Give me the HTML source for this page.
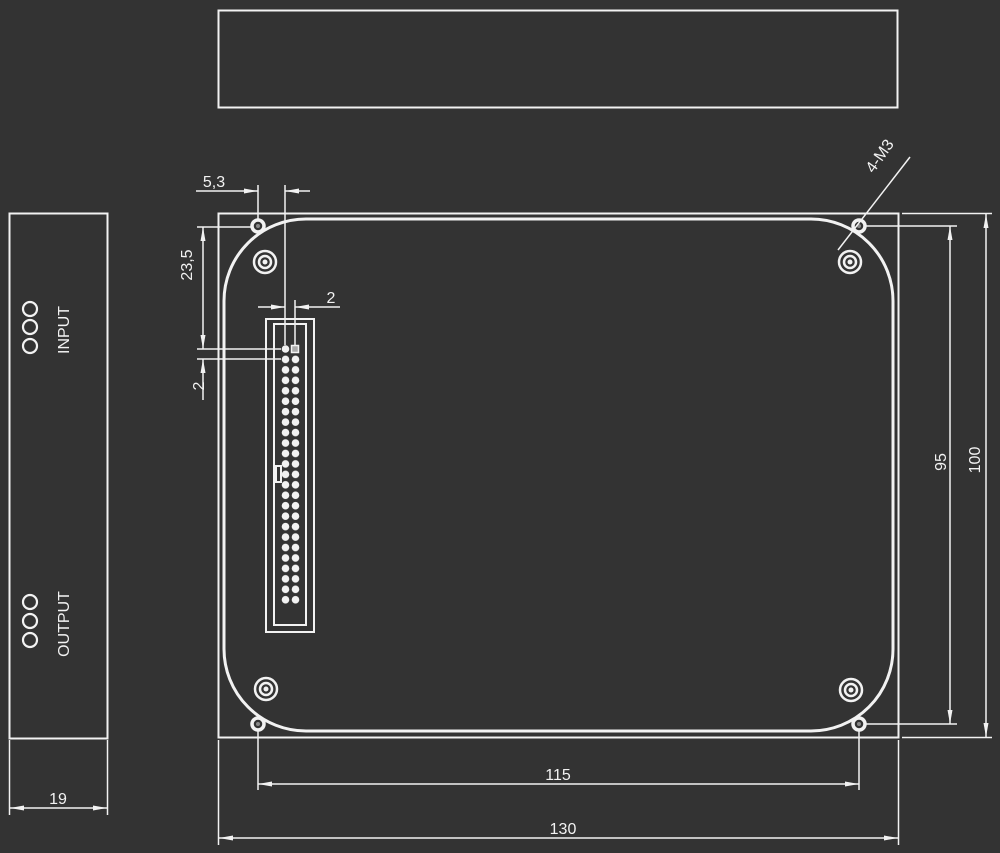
<!DOCTYPE html>
<html><head><style>html,body{margin:0;padding:0;background:#333;}svg{display:block}</style></head>
<body>
<svg width="1000" height="853" viewBox="0 0 1000 853" xmlns="http://www.w3.org/2000/svg" font-family="Liberation Sans, sans-serif" fill="none" stroke="#f2f2f2">
<defs>
<marker id="a" viewBox="0 0 14 6" refX="14" refY="3" markerWidth="14" markerHeight="6" orient="auto-start-reverse" markerUnits="userSpaceOnUse"><path d="M0,0.5 L14,3 L0,5.5 Z" fill="#f2f2f2" stroke="none"/></marker>
<pattern id="pins" x="280.5" y="343.8" width="10" height="10.45" patternUnits="userSpaceOnUse"><circle cx="5" cy="5.2" r="3.8" fill="#f2f2f2" stroke="none"/></pattern>
</defs>
<rect x="0" y="0" width="1000" height="853" fill="#333" stroke="none"/>
<rect x="218.5" y="10.5" width="679" height="97" stroke-width="2"/>
<rect x="9.5" y="213.5" width="98" height="525" stroke-width="2"/>
<g stroke-width="2.2">
<circle cx="30" cy="309" r="7"/><circle cx="30" cy="327" r="7"/><circle cx="30" cy="346" r="7"/>
<circle cx="30" cy="602" r="7"/><circle cx="30" cy="621" r="7"/><circle cx="30" cy="640" r="7"/>
</g>
<g fill="#f2f2f2" stroke="none" font-size="16">
<text transform="translate(69,330) rotate(-90)" text-anchor="middle">INPUT</text>
<text transform="translate(69,624) rotate(-90)" text-anchor="middle">OUTPUT</text>
</g>
<g stroke-width="1.5">
<line x1="9.5" y1="740" x2="9.5" y2="815"/><line x1="107.5" y1="740" x2="107.5" y2="815"/>
<line x1="10" y1="808" x2="107" y2="808" marker-start="url(#a)" marker-end="url(#a)"/>
</g>
<text x="58" y="804" fill="#f2f2f2" stroke="none" font-size="16" text-anchor="middle">19</text>
<rect x="218.5" y="213.5" width="680" height="524" stroke-width="2"/>
<rect x="224" y="219" width="669" height="512" rx="82" ry="82" stroke-width="3"/>
<g stroke-width="3.5">
<circle cx="258" cy="226" r="6"/><circle cx="859" cy="226" r="6"/><circle cx="258" cy="724" r="6"/><circle cx="859" cy="724" r="6"/>
</g>
<g fill="#888" stroke="none"><circle cx="258" cy="226" r="2"/><circle cx="859" cy="226" r="2"/><circle cx="258" cy="724" r="2"/><circle cx="859" cy="724" r="2"/></g>
<g stroke-width="2.5">
<circle cx="265" cy="262" r="11"/><circle cx="265" cy="262" r="6"/>
<circle cx="850" cy="262" r="11"/><circle cx="850" cy="262" r="6"/>
<circle cx="266" cy="689" r="11"/><circle cx="266" cy="689" r="6"/>
<circle cx="851" cy="690" r="11"/><circle cx="851" cy="690" r="6"/>
</g>
<g fill="#f2f2f2" stroke="none"><circle cx="265" cy="262" r="2.5"/><circle cx="850" cy="262" r="2.5"/><circle cx="266" cy="689" r="2.5"/><circle cx="851" cy="690" r="2.5"/></g>
<rect x="266" y="319" width="48" height="313" stroke-width="2"/>
<rect x="274" y="324" width="32" height="301" stroke-width="2"/>
<rect x="276" y="466" width="5" height="16" stroke-width="2" fill="#333"/>
<rect x="280.5" y="354.3" width="20" height="250.8" fill="url(#pins)" stroke="none"/>
<circle cx="285.5" cy="349" r="3.8" fill="#f2f2f2" stroke="none"/>
<rect x="291.5" y="345.5" width="7" height="7" fill="#aaa" stroke="#f2f2f2" stroke-width="1.5"/>
<g stroke-width="1.5">
<line x1="258" y1="185" x2="258" y2="220"/>
<line x1="285" y1="185" x2="285" y2="345"/>
<line x1="196" y1="191" x2="258" y2="191" marker-end="url(#a)"/>
<line x1="310" y1="191" x2="285" y2="191" marker-end="url(#a)"/>
<line x1="258" y1="307" x2="285" y2="307" marker-end="url(#a)"/>
<line x1="340" y1="307" x2="295" y2="307" marker-end="url(#a)"/>
<line x1="295" y1="300" x2="295" y2="345"/>
<line x1="197" y1="227" x2="252" y2="227"/>
<line x1="197" y1="349" x2="281" y2="349"/>
<line x1="197" y1="359" x2="281" y2="359"/>
<line x1="203" y1="227" x2="203" y2="349" marker-start="url(#a)" marker-end="url(#a)"/>
<line x1="203" y1="400" x2="203" y2="359" marker-end="url(#a)"/>
</g>
<g fill="#f2f2f2" stroke="none" font-size="16">
<text x="214" y="187" text-anchor="middle">5,3</text>
<text x="331" y="303" text-anchor="middle">2</text>
<text transform="translate(192,265) rotate(-90)" text-anchor="middle">23,5</text>
<text transform="translate(204,386) rotate(-90)" text-anchor="middle">2</text>
</g>
<line x1="910" y1="157" x2="838" y2="250" stroke-width="1.5"/>
<text transform="translate(884,159) rotate(-55)" fill="#f2f2f2" stroke="none" font-size="16" text-anchor="middle">4-M3</text>
<g stroke-width="1.5">
<line x1="866" y1="226" x2="957" y2="226"/>
<line x1="866" y1="724" x2="957" y2="724"/>
<line x1="950" y1="226" x2="950" y2="724" marker-start="url(#a)" marker-end="url(#a)"/>
<line x1="902" y1="213.5" x2="992" y2="213.5"/>
<line x1="902" y1="737.5" x2="992" y2="737.5"/>
<line x1="986" y1="214" x2="986" y2="737" marker-start="url(#a)" marker-end="url(#a)"/>
</g>
<g fill="#f2f2f2" stroke="none" font-size="16">
<text transform="translate(946,462) rotate(-90)" text-anchor="middle">95</text>
<text transform="translate(980,460) rotate(-90)" text-anchor="middle">100</text>
</g>
<g stroke-width="1.5">
<line x1="258" y1="731" x2="258" y2="790"/>
<line x1="859" y1="731" x2="859" y2="790"/>
<line x1="258" y1="784" x2="859" y2="784" marker-start="url(#a)" marker-end="url(#a)"/>
<line x1="218.5" y1="740" x2="218.5" y2="845"/>
<line x1="898.5" y1="740" x2="898.5" y2="845"/>
<line x1="219" y1="838" x2="898" y2="838" marker-start="url(#a)" marker-end="url(#a)"/>
</g>
<g fill="#f2f2f2" stroke="none" font-size="16">
<text x="558" y="780" text-anchor="middle">115</text>
<text x="563" y="834" text-anchor="middle">130</text>
</g>
</svg>
</body></html>
